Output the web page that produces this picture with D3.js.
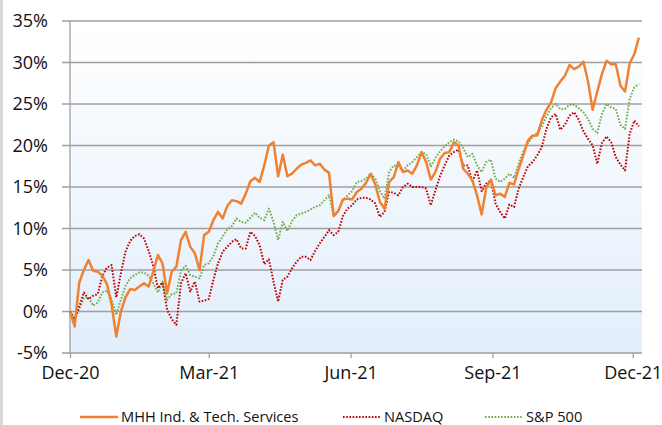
<html>
<head>
<script src="https://d3js.org/d3.v7.min.js"></script>
<style>
    body { margin: 0; background: #fff; }
    svg { display: block; font-family: 'Open Sans', sans-serif; }
</style>
</head>
<body>
<div id="chart"></div>
<script>

// sample dates (every 3 days)
var dates = [
"2020-12-01","2020-12-04","2020-12-07","2020-12-10","2020-12-13","2020-12-16","2020-12-19","2020-12-22","2020-12-25","2020-12-28","2020-12-31",
"2021-01-03","2021-01-06","2021-01-09","2021-01-12","2021-01-15","2021-01-18","2021-01-21","2021-01-24","2021-01-27","2021-01-30",
"2021-02-02","2021-02-05","2021-02-08","2021-02-11","2021-02-14","2021-02-17","2021-02-20","2021-02-23","2021-02-26",
"2021-03-01","2021-03-04","2021-03-07","2021-03-10","2021-03-13","2021-03-16","2021-03-19","2021-03-22","2021-03-25","2021-03-28","2021-03-31",
"2021-04-03","2021-04-06","2021-04-09","2021-04-12","2021-04-15","2021-04-18","2021-04-21","2021-04-24","2021-04-27","2021-04-30",
"2021-05-03","2021-05-06","2021-05-09","2021-05-12","2021-05-15","2021-05-18","2021-05-21","2021-05-24","2021-05-27","2021-05-30",
"2021-06-02","2021-06-05","2021-06-08","2021-06-11","2021-06-14","2021-06-17","2021-06-20","2021-06-23","2021-06-26","2021-06-29",
"2021-07-02","2021-07-05","2021-07-08","2021-07-11","2021-07-14","2021-07-17","2021-07-20","2021-07-23","2021-07-26","2021-07-29",
"2021-08-01","2021-08-04","2021-08-07","2021-08-10","2021-08-13","2021-08-16","2021-08-19","2021-08-22","2021-08-25","2021-08-28","2021-08-31",
"2021-09-03","2021-09-06","2021-09-09","2021-09-12","2021-09-15","2021-09-18","2021-09-21","2021-09-24","2021-09-27","2021-09-30",
"2021-10-03","2021-10-06","2021-10-09","2021-10-12","2021-10-15","2021-10-18","2021-10-21","2021-10-24","2021-10-27","2021-10-30",
"2021-11-02","2021-11-05","2021-11-08","2021-11-11","2021-11-14","2021-11-17","2021-11-20","2021-11-23","2021-11-26","2021-11-29",
"2021-12-02","2021-12-05"];

// cumulative return, %
var mhh = [0.0,-1.8,3.5,5.0,6.2,4.9,4.8,4.3,3.3,0.8,
-3.0,0.0,1.7,2.7,2.6,3.0,3.4,3.0,4.8,6.8,
5.8,2.2,4.8,5.4,8.6,9.6,7.8,7.0,5.0,9.2,
9.6,11.0,12.0,11.2,12.7,13.4,13.3,13.0,14.2,15.7,
16.1,15.6,17.6,20.0,20.4,16.3,18.9,16.3,16.6,17.2,
17.7,17.9,18.2,17.6,17.8,17.1,16.7,11.5,12.1,13.5,
13.6,13.5,14.4,14.8,15.5,16.6,15.3,13.2,12.4,15.6,
16.2,18.0,16.8,17.0,16.6,17.6,19.2,18.0,15.9,16.8,
18.4,19.1,19.2,20.4,20.0,17.2,16.6,15.8,14.0,11.7,
14.9,15.9,14.0,14.2,13.8,15.5,15.3,17.2,18.8,20.6,
21.2,21.2,23.0,24.3,25.2,26.9,27.7,28.4,29.7,29.2,
29.5,30.1,27.7,24.3,26.5,28.6,30.2,29.8,29.8,27.2,
26.5,29.9,31.0,33.0];

var nasdaq = [0.0,-1.0,0.6,2.3,1.5,1.9,2.1,4.3,5.3,5.6,
1.7,4.6,7.2,8.5,9.1,9.3,8.8,7.3,5.5,2.8,
3.5,0.2,-0.9,-1.6,3.4,4.6,2.4,3.6,1.2,1.3,
1.5,3.8,5.8,7.2,7.8,8.4,8.7,7.6,7.6,9.6,
9.1,8.0,5.7,6.3,3.6,1.2,3.8,4.2,5.2,6.0,
6.6,6.6,6.2,7.3,8.2,9.0,9.8,9.2,9.6,11.5,
12.4,12.8,13.5,13.7,13.7,13.5,13.0,11.4,12.0,14.4,
14.3,14.0,15.0,15.4,15.0,15.0,15.0,14.8,12.8,14.6,
16.3,17.6,18.8,19.2,19.5,17.6,17.6,15.6,17.0,14.5,
15.4,15.8,13.0,12.0,11.2,12.9,12.6,14.8,16.2,17.5,
18.0,18.8,19.8,22.0,23.4,23.8,21.9,22.5,23.6,24.0,
23.1,21.7,20.8,20.0,17.8,20.3,21.1,20.4,18.6,17.7,
17.0,21.4,23.0,22.3];

var sp500 = [0.0,-0.8,0.3,1.6,1.7,0.7,1.1,2.3,2.5,1.5,
-0.4,1.4,3.1,4.0,4.4,4.7,4.7,4.3,3.4,2.3,
3.6,1.4,2.1,2.2,4.9,5.5,4.4,4.2,4.0,5.6,
5.8,6.7,8.2,9.0,9.9,10.3,11.2,10.8,10.7,11.3,
11.9,11.3,11.0,12.4,10.8,8.6,10.8,9.7,10.9,11.6,
11.8,12.0,12.3,12.6,12.8,13.4,14.0,11.6,12.2,13.4,
14.0,14.5,15.6,15.7,16.0,16.6,16.0,14.5,13.6,16.8,
17.6,17.4,17.0,17.6,18.0,18.6,19.2,19.0,17.5,18.5,
19.3,19.9,20.4,20.7,20.5,19.7,18.6,19.0,17.6,16.8,
18.0,18.3,16.0,15.6,16.0,16.6,16.1,17.8,19.3,20.3,
21.0,21.5,22.3,23.5,24.5,25.0,24.4,24.4,24.9,24.9,
24.5,24.0,23.2,22.0,21.5,23.8,25.0,24.6,24.4,22.5,
22.0,25.6,27.0,27.4];

var seriesNames = ["MHH Ind. & Tech. Services", "NASDAQ", "S&P 500"];
var yTicks = [-5, 0, 5, 10, 15, 20, 25, 30, 35];
var xTicks = ["2020-12-01", "2021-03-01", "2021-06-01", "2021-09-01", "2021-12-01"];

var parseDate = d3.timeParse("%Y-%m-%d");

var svg = d3.select("#chart")
    .append("svg")
    .attr("width", 662)
    .attr("height", 425);

// left grey edge
svg.append("rect")
    .attr("x", 0).attr("y", 0)
    .attr("width", 3).attr("height", 425)
    .style("fill", "#d9d9d9");

//scales
var xScale = d3.scaleTime()
    .domain([parseDate("2020-12-01"), parseDate("2021-12-07")])
    .range([70, 642]);
var yScale = d3.scaleLinear()
    .domain([-5, 35])
    .range([353, 21]);

//plot background
var grad = svg.append("defs").append("linearGradient")
    .attr("id", "bg")
    .attr("x1", 0).attr("y1", 0).attr("x2", 0).attr("y2", 1);
grad.append("stop").attr("offset", "0%").attr("stop-color", "#ffffff");
grad.append("stop").attr("offset", "100%").attr("stop-color", "#e2eefb");

svg.append("rect")
    .attr("x", xScale.range()[0])
    .attr("y", yScale(35))
    .attr("width", xScale.range()[1] - xScale.range()[0])
    .attr("height", yScale(-5) - yScale(35))
    .style("fill", "url(#bg)");

//gridlines
svg.selectAll(".grid")
    .data(yTicks)
    .enter().append("line")
    .attr("class", "grid")
    .attr("x1", 62)
    .attr("x2", xScale.range()[1])
    .attr("y1", function(d) { return yScale(d); })
    .attr("y2", function(d) { return yScale(d); })
    .style("stroke", "#9f9f9f")
    .style("stroke-width", "1.3px");

//y axis
var leftAxis = d3.axisLeft(yScale)
    .tickValues(yTicks)
    .tickSize(0)
    .tickPadding(14)
    .tickFormat(function(d) { return d + "%"; });

var gy = svg.append("g")
    .attr("transform", "translate(62,0)")
    .call(leftAxis);
gy.select(".domain").remove();
gy.selectAll("text")
    .style("font-family", "'Open Sans', sans-serif")
    .style("font-size", "18px")
    .style("fill", "#111");

svg.append("line")
    .attr("x1", 70).attr("x2", 70)
    .attr("y1", yScale(35)).attr("y2", yScale(-5))
    .style("stroke", "#9f9f9f")
    .style("stroke-width", "1.3px");

//x axis
var bottomAxis = d3.axisBottom(xScale)
    .tickValues(xTicks.map(parseDate))
    .tickSize(5)
    .tickPadding(8)
    .tickFormat(d3.timeFormat("%b-%y"));

var gx = svg.append("g")
    .attr("transform", "translate(0," + yScale(-5) + ")")
    .call(bottomAxis);
gx.select(".domain").remove();
gx.selectAll("line").style("stroke", "#9f9f9f").style("stroke-width", "1.3px");
gx.selectAll("text")
    .style("font-family", "'Open Sans', sans-serif")
    .style("font-size", "18px")
    .style("fill", "#111");

//lines
var styles = [
    { color: "#f08131", width: 2.5, dash: null },
    { color: "#c00000", width: 2, dash: "1.6,1.6" },
    { color: "#70ad47", width: 2, dash: "1.6,1.6" }
];
var allSeries = [mhh, nasdaq, sp500];

var line = d3.line()
    .x(function(d) { return xScale(d.date); })
    .y(function(d) { return yScale(d.value); });

// draw indices first, then MHH on top
[2, 1, 0].forEach(function(i) {
    var pts = dates.map(function(d, j) { return { date: parseDate(d), value: allSeries[i][j] }; });
    svg.append("path")
        .datum(pts)
        .attr("d", line)
        .style("fill", "none")
        .style("stroke", styles[i].color)
        .style("stroke-width", styles[i].width + "px")
        .style("stroke-linejoin", "round")
        .style("stroke-dasharray", styles[i].dash);
});

//legend
var legendX = [80, 343, 485];
seriesNames.forEach(function(name, i) {
    svg.append("line")
        .attr("x1", legendX[i])
        .attr("x2", legendX[i] + 38)
        .attr("y1", 417)
        .attr("y2", 417)
        .style("stroke", styles[i].color)
        .style("stroke-width", styles[i].width + "px")
        .style("stroke-dasharray", styles[i].dash);
    svg.append("text")
        .attr("x", legendX[i] + 41)
        .attr("y", 422)
        .style("font-size", "14.6px")
        .style("fill", "#111")
        .text(name);
});

</script>
</body>
</html>
